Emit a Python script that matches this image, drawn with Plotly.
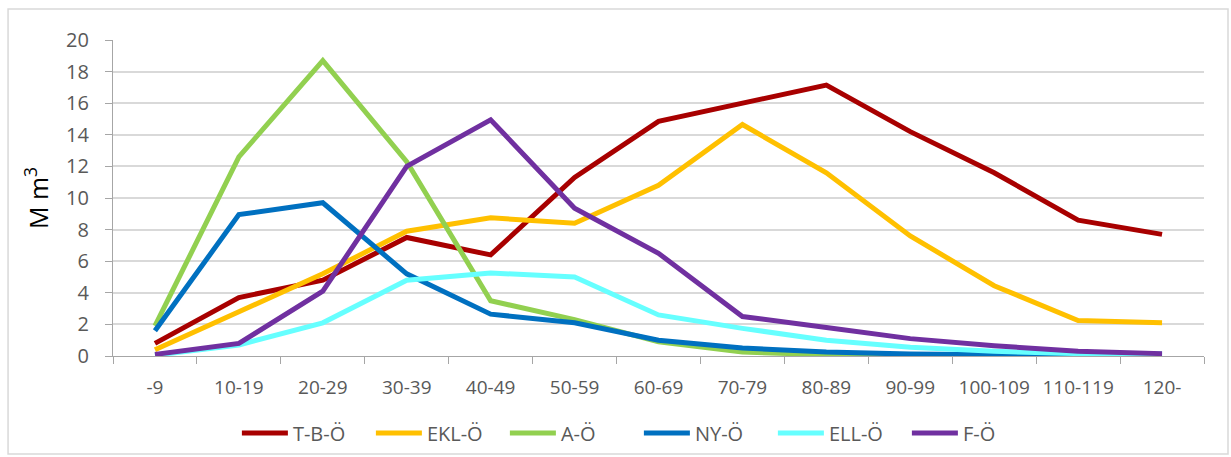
import plotly.graph_objects as go

categories = ["-9", "10-19", "20-29", "30-39", "40-49", "50-59", "60-69",
              "70-79", "80-89", "90-99", "100-109", "110-119", "120-"]

t_b_o = [0.8, 3.7, 4.8, 7.5, 6.4, 11.3, 14.85, 16.0, 17.15, 14.2, 11.6, 8.6, 7.7]
ekl_o = [0.4, 2.8, 5.2, 7.9, 8.75, 8.4, 10.8, 14.65, 11.6, 7.6, 4.45, 2.25, 2.1]
a_o = [1.9, 12.6, 18.7, 12.3, 3.5, 2.3, 0.9, 0.25, 0.08, 0.04, 0.02, 0.01, 0.0]
ny_o = [1.6, 8.95, 9.7, 5.2, 2.65, 2.1, 1.0, 0.5, 0.25, 0.12, 0.08, 0.05, 0.05]
ell_o = [0.05, 0.7, 2.1, 4.8, 5.25, 5.0, 2.6, 1.75, 1.0, 0.55, 0.3, 0.15, 0.15]
f_o = [0.1, 0.8, 4.1, 12.0, 14.95, 9.35, 6.5, 2.5, 1.8, 1.1, 0.65, 0.3, 0.15]

series = [
    ("T-B-Ö", t_b_o, "#A80000"),
    ("EKL-Ö", ekl_o, "#FFC000"),
    ("A-Ö", a_o, "#92D050"),
    ("NY-Ö", ny_o, "#0070C0"),
    ("ELL-Ö", ell_o, "#66FFFF"),
    ("F-Ö", f_o, "#7030A0"),
]

fig = go.Figure()
for name, vals, color in series:
    fig.add_trace(go.Scatter(x=categories, y=vals, name=name, mode="lines",
                             line=dict(color=color, width=5)))

font_family = "Open Sans, Liberation Sans, sans-serif"
fig.update_layout(
    width=1231, height=457,
    margin=dict(l=113, r=27, t=40, b=101),
    paper_bgcolor="white", plot_bgcolor="white",
    font=dict(family=font_family, color="#595959", size=20),
    showlegend=True,
    legend=dict(orientation="h", xref="container", yref="container",
                x=0.519, xanchor="center", y=1 - 433 / 457, yanchor="middle",
                font=dict(size=20, color="#595959"), itemwidth=46, tracegroupgap=0,
                entrywidth=73, entrywidthmode="pixels"),
    xaxis=dict(type="category", range=[-0.5, 12.5], showgrid=False, automargin=False,
               showline=True, linecolor="#A6A6A6", linewidth=1.3,
               ticks="outside", tickson="boundaries", ticklen=7, tickcolor="#A6A6A6",
               ticklabelstandoff=14, tickangle=0,
               tickfont=dict(size=19, color="#595959")),
    yaxis=dict(range=[0, 20], dtick=2, showgrid=True, gridcolor="#D9D9D9", gridwidth=1.6,
               showline=True, linecolor="#A6A6A6", linewidth=1.3, automargin=False,
               ticks="outside", ticklen=7, tickcolor="#A6A6A6",
               ticklabelstandoff=12,
               tickfont=dict(size=20, color="#595959"), zeroline=False,
               title=dict(text="M m<sup>3</sup>", font=dict(size=25, color="black"), standoff=10)),
    shapes=[dict(type="rect", xref="paper", yref="paper",
                 x0=-0.0962, x1=1.022, y0=-0.31, y1=1.098,
                 line=dict(color="#D9D9D9", width=1.5), fillcolor="rgba(0,0,0,0)", layer="below")],
)

fig.write_html("out.html", config={"displayModeBar": False},
               post_script="document.body.style.margin='0';")
